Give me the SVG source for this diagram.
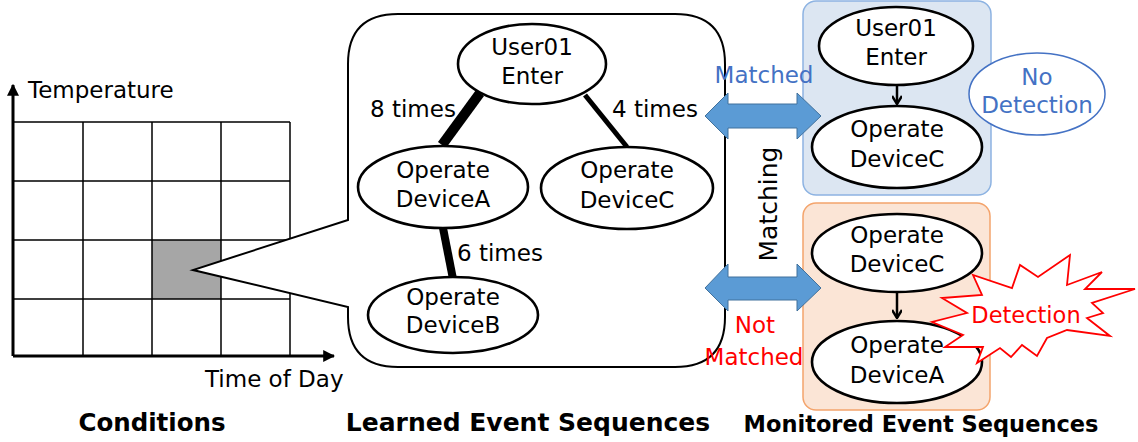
<svg xmlns="http://www.w3.org/2000/svg" width="1138" height="442" viewBox="0 0 1138 442">
<style>
text{font-family:"DejaVu Sans","Liberation Sans",sans-serif;font-size:23px;fill:#000;text-anchor:middle}
.lbl{text-anchor:start}
.node{fill:#fff;stroke:#000;stroke-width:2.6}
.grid{fill:none;stroke:#000;stroke-width:1.5}
.blue{fill:#4472c4}
.red{fill:#ff0000}
.title{font-weight:bold;font-size:24.5px}
.bigarrow{fill:#5b9bd5;stroke:#41719c;stroke-width:1}
</style>
<defs>
<marker id="ah" viewBox="0 0 10 10" refX="9" refY="5" markerWidth="4" markerHeight="4" orient="auto" markerUnits="strokeWidth">
<path d="M0,0 L10,5 L0,10 z" fill="#000"/>
</marker>
<marker id="ah2" viewBox="0 0 10 10" refX="9" refY="5" markerWidth="4" markerHeight="4" orient="auto" markerUnits="strokeWidth">
<path d="M1,0 L9,5 L1,10" fill="none" stroke="#000" stroke-width="2.5"/>
</marker>
</defs>

<g id="chart">
<rect x="152" y="240" width="69" height="59" fill="#a6a6a6"/>
<path class="grid" d="M13,122 H290 M13,181 H290 M13,240 H290 M13,299 H290 M83,122 V356 M152,122 V356 M221,122 V356 M290,122 V356"/>
<line x1="13" y1="356" x2="13" y2="85" stroke="#000" stroke-width="3" marker-end="url(#ah)"/>
<line x1="13" y1="356" x2="334" y2="356" stroke="#000" stroke-width="3" marker-end="url(#ah)"/>
<text class="lbl" x="28" y="98">Temperature</text>
<text class="lbl" x="205" y="387">Time of Day</text>
</g>

<g id="callout">
<path d="M398,14 H675 Q725,14 725,64 V317 Q725,367 675,367 H398 Q348,367 348,317 V307 L193,270 L348,220 V64 Q348,14 398,14 Z" fill="#fff" stroke="#000" stroke-width="2"/>
</g>

<g id="matched-box">
<rect x="803" y="1" width="188" height="194" rx="13" fill="#dce6f2" stroke="#8db3e2" stroke-width="1.5"/>
</g>
<g id="notmatched-box">
<rect x="803" y="203" width="187" height="207" rx="13" fill="#fbe5d6" stroke="#f4a46c" stroke-width="1.5"/>
</g>

<g id="connectors">
<line x1="480" y1="93" x2="442" y2="145" stroke="#000" stroke-width="10"/>
<line x1="585" y1="95" x2="627" y2="147" stroke="#000" stroke-width="5"/>
<line x1="443" y1="228" x2="453" y2="279" stroke="#000" stroke-width="8"/>
<text class="lbl" x="370" y="117">8 times</text>
<text class="lbl" x="612" y="117">4 times</text>
<text class="lbl" x="457" y="261">6 times</text>
<line x1="897" y1="85" x2="897" y2="104" stroke="#000" stroke-width="2.5" marker-end="url(#ah2)"/>
<line x1="897" y1="292" x2="897" y2="318" stroke="#000" stroke-width="2.5" marker-end="url(#ah2)"/>
<path class="bigarrow" d="M705,116 L728,93 V104 H797 V93 L821,116 L797,139 V128 H728 V139 Z"/>
<path class="bigarrow" d="M705,288 L728,264 V277 H797 V264 L821,288 L797,311 V300 H728 V311 Z"/>
<text class="blue" x="764" y="83">Matched</text>
<text class="red" x="755" y="333">Not</text>
<text class="red" x="754" y="365">Matched</text>
<text transform="translate(777,204) rotate(-90)" style="font-size:25px">Matching</text>
</g>

<g id="learned-user01">
<ellipse class="node" cx="532" cy="64" rx="74" ry="40"/>
<text x="532" y="55">User01</text><text x="532" y="84">Enter</text>
</g>
<g id="learned-deviceA">
<ellipse class="node" cx="443" cy="187" rx="85" ry="41"/>
<text x="443" y="178">Operate</text><text x="443" y="207">DeviceA</text>
</g>
<g id="learned-deviceC">
<ellipse class="node" cx="627" cy="188" rx="86" ry="41"/>
<text x="627" y="178">Operate</text><text x="627" y="208">DeviceC</text>
</g>
<g id="learned-deviceB">
<ellipse class="node" cx="453" cy="315" rx="85" ry="38"/>
<text x="453" y="305">Operate</text><text x="453" y="333">DeviceB</text>
</g>

<g id="mon-user01">
<ellipse class="node" cx="896" cy="46" rx="77" ry="39"/>
<text x="896" y="36">User01</text><text x="896" y="65">Enter</text>
</g>
<g id="mon-deviceC1">
<ellipse class="node" cx="897" cy="147" rx="85" ry="41"/>
<text x="897" y="137">Operate</text><text x="897" y="167">DeviceC</text>
</g>
<g id="no-detection">
<ellipse cx="1037" cy="94" rx="68" ry="41" fill="#fff" stroke="#4472c4" stroke-width="1.5"/>
<text class="blue" x="1037" y="85">No</text><text class="blue" x="1037" y="113">Detection</text>
</g>
<g id="mon-deviceC2">
<ellipse class="node" cx="897" cy="253" rx="85" ry="39"/>
<text x="897" y="243">Operate</text><text x="897" y="272">DeviceC</text>
</g>
<g id="mon-deviceA">
<ellipse class="node" cx="897" cy="362" rx="85" ry="41"/>
<text x="897" y="353">Operate</text><text x="897" y="383">DeviceA</text>
</g>
<g id="detection">
<polygon points="1070,255 1067,285 1102,272 1085,289 1135,289 1092,303 1103,313 1087,318 1110,336 1067,330 1047,338 1037,356 1022,345 1011,357 1000,348 977,363 983,347 945,347 963,335 932,322 967,313 942,298 982,295 973,275 1012,288 1020,265 1038,277" fill="#fff" stroke="#ff0000" stroke-width="1.8" stroke-linejoin="miter"/>
<text class="red" x="1026" y="323" style="font-size:22.5px">Detection</text>
</g>

<g id="titles">
<text class="title" x="152" y="431">Conditions</text>
<text class="title" x="528" y="431" style="font-size:25px">Learned Event Sequences</text>
<text class="title" x="921" y="432" style="font-size:22.5px">Monitored Event Sequences</text>
</g>
</svg>
